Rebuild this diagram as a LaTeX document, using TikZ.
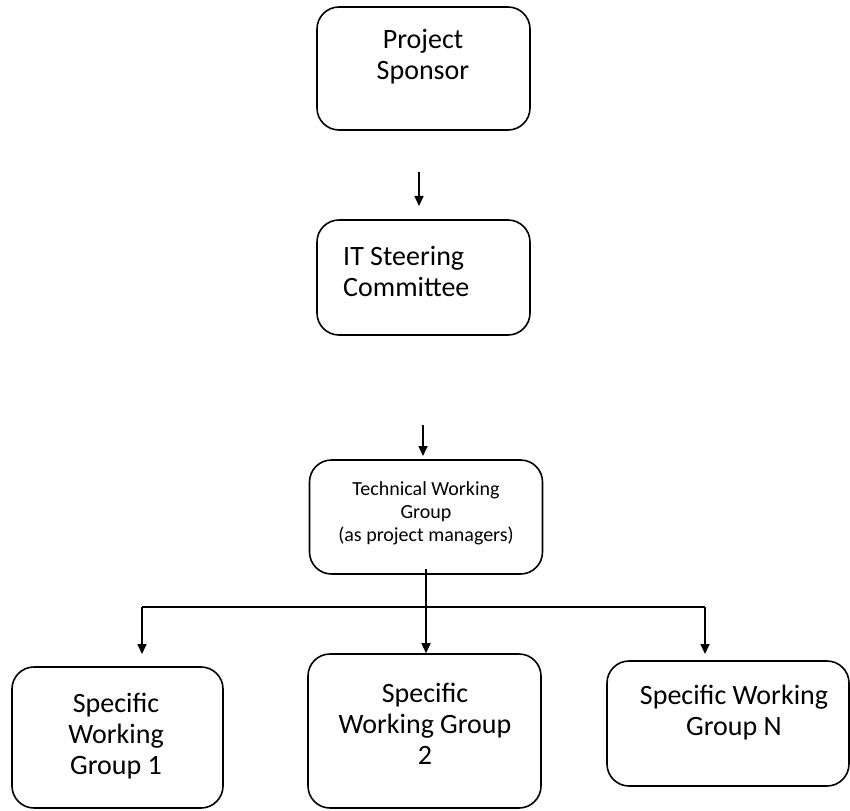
\documentclass[tikz,border=0pt]{standalone}
\usepackage{fontspec}
\setmainfont{Carlito}
\usepackage{tikz}
\usetikzlibrary{positioning,calc,arrows.meta}

\tikzset{
    box/.style={draw, line width=1.6pt, rounded corners=22pt, inner sep=0pt},
    lbl/.style={font=\fontsize{28}{31}\selectfont, align=center, inner sep=0pt},
    small/.style={font=\fontsize{20}{23}\selectfont, align=center, inner sep=0pt},
    arr/.style={line width=1.6pt, -{Triangle[length=10pt,width=9pt]}}
}

\begin{document}
\begin{tikzpicture}[x=1pt, y=-1pt]
    \useasboundingbox (0,0) rectangle (850,810);

    % boxes
    \node[box, minimum width=213pt, minimum height=123pt] (sponsor) at (423.5,68.5) {};
    \node[box, minimum width=213pt, minimum height=115pt] (steer) at (423.5,277.5) {};
    \node[box, minimum width=233pt, minimum height=114pt] (twg) at (426,517) {};
    \node[box, minimum width=211pt, minimum height=141pt] (swg1) at (117.5,737.5) {};
    \node[box, minimum width=233pt, minimum height=154pt] (swg2) at (424.5,731) {};
    \node[box, minimum width=242pt, minimum height=125pt] (swgn) at (728,723.5) {};

    % texts
    \node[lbl] (sponsortxt) at (423,57) {Project\\Sponsor};
    \node[lbl, align=left, anchor=north west] (steertxt) at (343,246) {IT Steering\\Committee};
    \node[small] (twgtxt) at (426,513) {Technical Working\\Group\\(as project managers)};
    \node[lbl] (swg1txt) at (116,736) {Specific\\Working\\Group 1};
    \node[lbl] (swg2txt) at (425,724) {Specific\\Working Group\\2};
    \node[lbl] (swgntxt) at (734,713) {Specific Working\\Group N};

    % connectors
    \coordinate (a1) at (419,172);
    \coordinate (a2) at (423,425);
    \coordinate (busL) at (142,607);
    \coordinate (busR) at (705,607);
    \draw[arr] (a1) -- ++(0,34);
    \draw[arr] (a2) -- ++(0,31);
    \draw[arr] ($(twg.south)+(0,-6)$) -- (twg.south |- swg2.north);
    \draw[line width=1.6pt] (busL) -- (busR);
    \draw[arr] (busL) -- ++(0,47);
    \draw[arr] (busR) -- ++(0,47);
\end{tikzpicture}
\end{document}
